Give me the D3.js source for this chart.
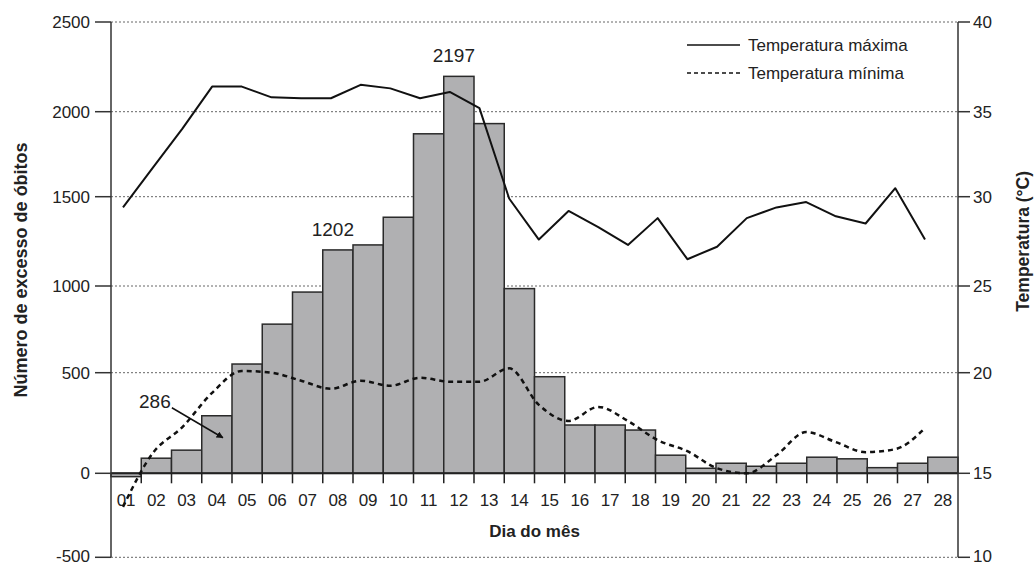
<!DOCTYPE html>
<html>
<head>
<meta charset="utf-8">
<script src="https://cdn.jsdelivr.net/npm/d3@7"></script>
<style>
  html, body { margin: 0; padding: 0; background: #fff; }
  svg { display: block; font-family: "Liberation Sans", Arial, sans-serif; }
</style>
</head>
<body>
<svg id="chart" width="1034" height="565"></svg>
<script>
// ---- data ----
const days = ["01","02","03","04","05","06","07","08","09","10","11","12","13","14",
              "15","16","17","18","19","20","21","22","23","24","25","26","27","28"];
const excessDeaths = [-20, 75, 115, 286, 550, 780, 965, 1202, 1230, 1385, 1870, 2197, 1930, 985,
                      480, 240, 240, 215, 90, 25, 50, 35, 50, 80, 72, 28, 50, 80];
const tempMax = [29.4, 31.7, 34.0, 36.4, 36.4, 35.8, 35.75, 35.75, 36.5, 36.3, 35.75, 36.1, 35.2, 29.9,
                 27.6, 29.2, 28.3, 27.3, 28.8, 26.5, 27.2, 28.8, 29.4, 29.7, 28.9, 28.5, 30.5, 27.6];
const tempMin = [13.0, 16.0, 17.3, 19.0, 20.1, 20.0, 19.6, 19.2, 19.6, 19.35, 19.75, 19.55, 19.55, 20.25,
                 18.4, 17.6, 18.3, 17.6, 16.65, 16.1, 15.25, 15.0, 15.9, 17.05, 16.55, 16.05, 16.2, 17.25];
const leftTicks = [-500, 0, 500, 1000, 1500, 2000, 2500];
const rightTicks = [10, 15, 20, 25, 30, 35, 40];
const annotations = [
  {day: "12", value: 2197, text: "2197"},
  {day: "08", value: 1202, text: "1202"}
];

// ---- layout ----
const svg = d3.select("#chart");
const plot = {left: 111, right: 958};
const tickY = [557.3, 473.3, 372.7, 286, 196.7, 111.7, 22]; // axis positions of the tick values

const x = d3.scaleBand().domain(days).range([plot.left, plot.right]).padding(0);
const xLine = d3.scalePoint().domain(days).range([plot.left + 12, plot.right - 33]);
const y = d3.scaleLinear().domain(leftTicks).range(tickY);
const yT = d3.scaleLinear().domain(rightTicks).range(tickY);

// gridlines
svg.append("g").selectAll("line").data(leftTicks.filter(d => d !== 0)).join("line")
  .attr("x1", plot.left).attr("x2", plot.right)
  .attr("y1", d => y(d)).attr("y2", d => y(d))
  .attr("stroke", "#666").attr("stroke-width", 1).attr("stroke-dasharray", "2,2");

// bars
svg.append("g").selectAll("rect").data(days.map((d, i) => ({day: d, v: excessDeaths[i]}))).join("rect")
  .attr("x", d => x(d.day))
  .attr("width", x.bandwidth())
  .attr("y", d => Math.min(y(d.v), y(0)))
  .attr("height", d => Math.abs(y(d.v) - y(0)))
  .attr("fill", "#b0b0b2").attr("stroke", "#2a2a2a").attr("stroke-width", 1.5);

// x axis (baseline at 0)
svg.append("line").attr("x1", plot.left).attr("x2", plot.right)
  .attr("y1", y(0)).attr("y2", y(0)).attr("stroke", "#222").attr("stroke-width", 2);
const xAxis = svg.append("g");
xAxis.selectAll("line").data(days.slice(1)).join("line")
  .attr("x1", d => x(d)).attr("x2", d => x(d))
  .attr("y1", y(0)).attr("y2", y(0) + 10)
  .attr("stroke", "#222").attr("stroke-width", 1.5);
xAxis.selectAll("text").data(days).join("text")
  .attr("x", d => x(d) + x.bandwidth() / 2).attr("y", y(0) + 33)
  .attr("text-anchor", "middle").attr("font-size", 17).attr("fill", "#222").text(d => d);

// left axis
const lAxis = svg.append("g");
lAxis.append("line").attr("x1", plot.left).attr("x2", plot.left)
  .attr("y1", y(2500)).attr("y2", y(-500)).attr("stroke", "#333").attr("stroke-width", 1.5);
lAxis.selectAll("line.t").data(leftTicks).join("line").attr("class", "t")
  .attr("x1", plot.left - 16).attr("x2", plot.left)
  .attr("y1", d => y(d)).attr("y2", d => y(d)).attr("stroke", "#333").attr("stroke-width", 1.5);
lAxis.selectAll("text").data(leftTicks).join("text")
  .attr("x", plot.left - 21).attr("y", d => y(d)).attr("dy", d => d === -500 ? "0.25em" : "0.35em")
  .attr("text-anchor", "end").attr("font-size", 17).attr("fill", "#222").text(d => d);

// right axis
const rAxis = svg.append("g");
rAxis.append("line").attr("x1", plot.right).attr("x2", plot.right)
  .attr("y1", yT(40)).attr("y2", yT(10)).attr("stroke", "#333").attr("stroke-width", 1.5);
rAxis.selectAll("line.t").data(rightTicks).join("line").attr("class", "t")
  .attr("x1", plot.right).attr("x2", plot.right + 12)
  .attr("y1", d => yT(d)).attr("y2", d => yT(d)).attr("stroke", "#333").attr("stroke-width", 1.5);
rAxis.selectAll("text").data(rightTicks).join("text")
  .attr("x", plot.right + 15).attr("y", d => yT(d)).attr("dy", d => d === 10 ? "0.25em" : "0.35em")
  .attr("text-anchor", "start").attr("font-size", 17).attr("fill", "#222").text(d => d);

// temperature lines
const lineMax = d3.line().x((d, i) => xLine(days[i])).y(d => yT(d));
const lineMin = d3.line().x((d, i) => xLine(days[i])).y(d => yT(d)).curve(d3.curveMonotoneX);
svg.append("path").datum(tempMax).attr("d", lineMax)
  .attr("fill", "none").attr("stroke", "#111").attr("stroke-width", 2).attr("stroke-linejoin", "round");
svg.append("path").datum(tempMin).attr("d", lineMin)
  .attr("fill", "none").attr("stroke", "#111").attr("stroke-width", 2.5).attr("stroke-dasharray", "5,4");

// value annotations
svg.append("g").selectAll("text").data(annotations).join("text")
  .attr("x", d => x(d.day) + x.bandwidth() / 2 - 5).attr("y", d => y(d.value) - 14)
  .attr("text-anchor", "middle").attr("font-size", 19).attr("fill", "#222").text(d => d.text);

// 286 annotation with arrow
svg.append("defs").append("marker").attr("id", "arr").attr("viewBox", "0 0 10 10")
  .attr("refX", 9).attr("refY", 5).attr("markerWidth", 7).attr("markerHeight", 7)
  .attr("orient", "auto").attr("markerUnits", "userSpaceOnUse")
  .append("path").attr("d", "M0,0L10,5L0,10z").attr("fill", "#111");
const b04 = x("04") + x.bandwidth() / 2;
svg.append("text").attr("x", b04 - 62).attr("y", y(286) - 8)
  .attr("text-anchor", "middle").attr("font-size", 19).attr("fill", "#222").text("286");
svg.append("line").attr("x1", b04 - 45).attr("y1", y(286) - 8)
  .attr("x2", b04 + 6).attr("y2", y(286) + 22)
  .attr("stroke", "#111").attr("stroke-width", 1.5).attr("marker-end", "url(#arr)");

// legend
const legend = svg.append("g");
const legItems = [{label: "Temperatura máxima", dash: null, dy: 0}, {label: "Temperatura mínima", dash: "4,3", dy: 28}];
legItems.forEach(it => {
  legend.append("line").attr("x1", 687).attr("x2", 740).attr("y1", 45 + it.dy).attr("y2", 45 + it.dy)
    .attr("stroke", "#111").attr("stroke-width", 1.5).attr("stroke-dasharray", it.dash);
  legend.append("text").attr("x", 748).attr("y", 45 + it.dy).attr("dy", "0.35em")
    .attr("font-size", 17).attr("fill", "#222").text(it.label);
});

// axis titles
svg.append("text").attr("transform", `translate(27, ${y(1090)}) rotate(-90)`)
  .attr("text-anchor", "middle").attr("font-size", 18).attr("font-weight", "bold").attr("fill", "#222")
  .text("Número de excesso de óbitos");
svg.append("text").attr("transform", `translate(1029, ${yT(27.5)}) rotate(-90)`)
  .attr("text-anchor", "middle").attr("font-size", 17.5).attr("font-weight", "bold").attr("fill", "#222")
  .text("Temperatura (°C)");
svg.append("text").attr("x", (plot.left + plot.right) / 2).attr("y", 537)
  .attr("text-anchor", "middle").attr("font-size", 17).attr("font-weight", "bold").attr("fill", "#222")
  .text("Dia do mês");
</script>
</body>
</html>
